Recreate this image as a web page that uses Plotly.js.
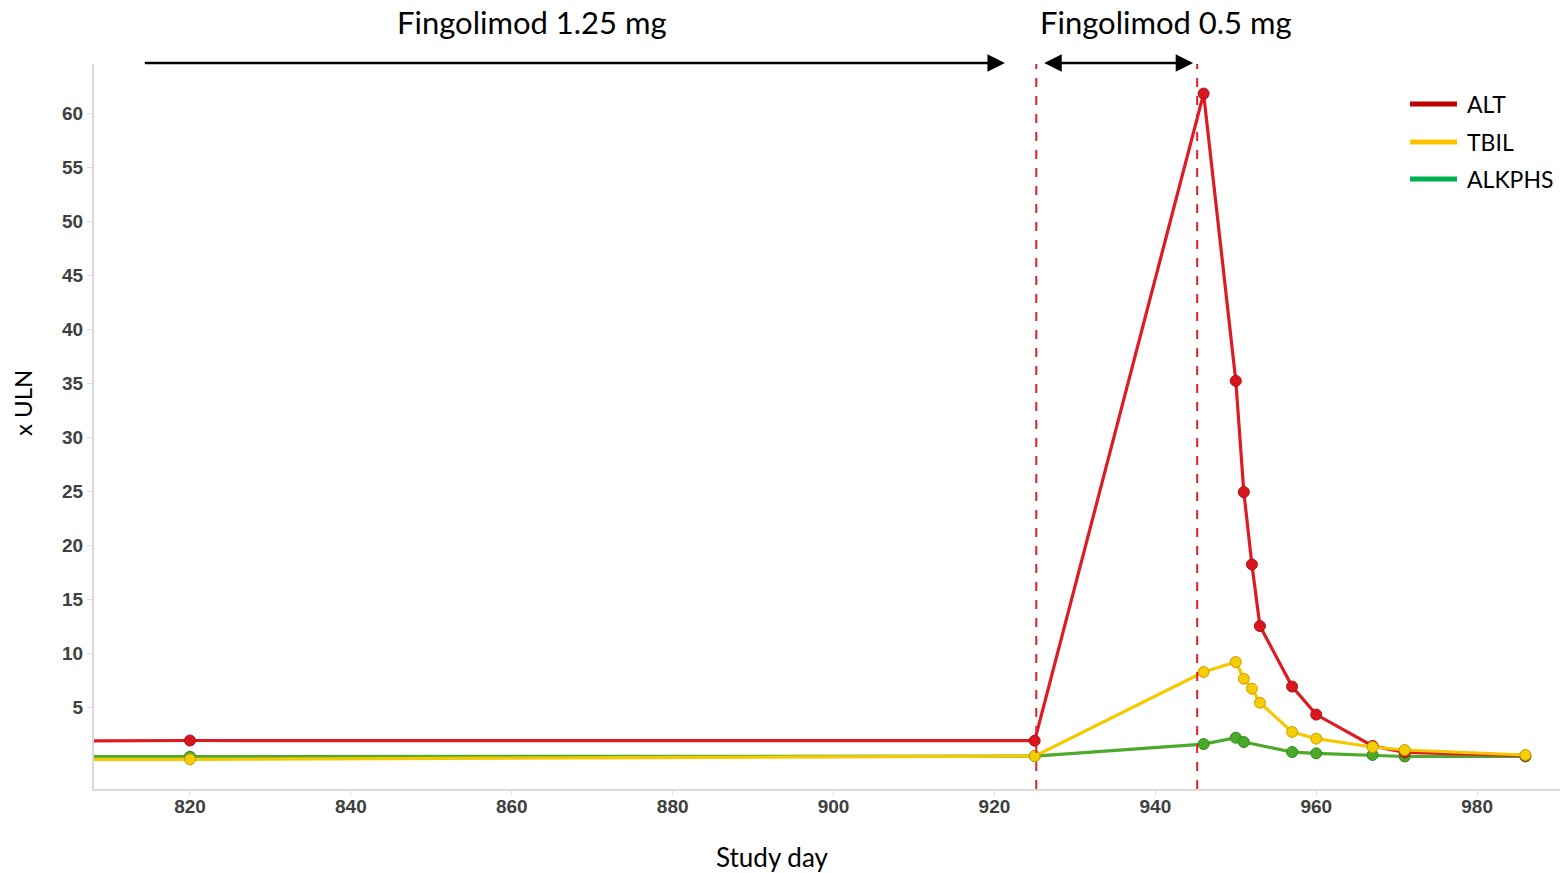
<!DOCTYPE html>
<html>
<head>
<meta charset="utf-8">
<script src="https://cdn.plot.ly/plotly-3.0.1.min.js"></script>
<style>html,body{margin:0;padding:0;background:#fff;}#chart{width:1568px;height:873px;}</style>
</head>
<body>
<div id="chart"></div>
<script>
// ---- data ----
const seriesNames = ["ALT", "TBIL", "ALKPHS"];
const altDays = [800, 820, 925, 946, 950, 951, 952, 953, 957, 960, 967, 971, 986];
const altValues = [1.85, 1.9, 1.88, 61.8, 35.2, 24.9, 18.2, 12.5, 6.9, 4.3, 1.4, 0.8, 0.5];
const tbilDays = [800, 820, 925, 946, 950, 951, 952, 953, 957, 960, 967, 971, 986];
const tbilValues = [0.15, 0.16, 0.46, 8.24, 9.17, 7.62, 6.7, 5.4, 2.69, 2.07, 1.3, 1.02, 0.56];
const alkDays = [800, 820, 925, 946, 950, 951, 957, 960, 967, 971, 986];
const alkValues = [0.4, 0.4, 0.46, 1.57, 2.16, 1.76, 0.83, 0.71, 0.56, 0.42, 0.42];
const doseChangeDays = [925.2, 945.2];
const periodLabels = ["Fingolimod 1.25 mg", "Fingolimod 0.5 mg"];
const periodSpans = [[814.2, 921.3], [926.0, 944.7]];
const xTicks = [820, 840, 860, 880, 900, 920, 940, 960, 980];
const yTicks = [5, 10, 15, 20, 25, 30, 35, 40, 45, 50, 55, 60];
const xTitle = "Study day";
const yTitle = "x ULN";
const legendColors = ["#C00000", "#FFC000", "#00B050"];

const styles = {
  ALT: {line: "#DE1B22", fill: "#D9161E", edge: "#A8131A"},
  TBIL: {line: "#F5C800", fill: "#F6CC07", edge: "#C9A100"},
  ALKPHS: {line: "#4CAB2C", fill: "#4AA92A", edge: "#2F8A1C"}
};

function mk(name, x, y) {
  const s = styles[name];
  return {
    x: x, y: y, name: name, type: "scatter", mode: "lines+markers",
    showlegend: false, cliponaxis: true,
    line: {color: s.line, width: 3.2},
    marker: {size: 11, color: s.fill, line: {color: s.edge, width: 1}}
  };
}

const traces = [
  mk("ALKPHS", alkDays, alkValues),
  mk("ALT", altDays, altValues),
  mk("TBIL", tbilDays, tbilValues)
];

const plotL = 94, plotR = 1560, plotT = 64, plotB = 789;
const px2x = p => (p - plotL) / (plotR - plotL);
const px2y = p => (plotB - p) / (plotB - plotT);
const textFont = "Lato, 'Open Sans', sans-serif";

const shapes = doseChangeDays.map(d => ({
  type: "line", xref: "x", yref: "paper", x0: d, x1: d, y0: 0, y1: 1,
  line: {color: "#E0202A", width: 2, dash: "dash"}
}));

const annotations = [];
// legend (manual)
const legendY = [104, 142, 179];
seriesNames.forEach((n, i) => {
  shapes.push({type: "line", xref: "paper", yref: "paper",
    x0: px2x(1410), x1: px2x(1457), y0: px2y(legendY[i]), y1: px2y(legendY[i]),
    line: {color: legendColors[i], width: 5}});
  annotations.push({xref: "paper", yref: "paper", x: px2x(1465), y: px2y(legendY[i]),
    xanchor: "left", yanchor: "middle", showarrow: false, text: n,
    font: {family: textFont, size: 23, color: "#000"}});
});

// period arrows
const arrowYp = px2y(63);
annotations.push({x: periodSpans[0][1], y: arrowYp, xref: "x", yref: "paper",
  ax: periodSpans[0][0], ay: 0, axref: "x", ayref: "pixel", text: "",
  showarrow: true, arrowhead: 2, arrowsize: 1.4, arrowwidth: 2.5, arrowcolor: "#000"});
annotations.push({x: periodSpans[1][1], y: arrowYp, xref: "x", yref: "paper",
  ax: periodSpans[1][0], ay: 0, axref: "x", ayref: "pixel", text: "",
  showarrow: true, arrowside: "end+start", arrowhead: 2, startarrowhead: 2,
  arrowsize: 1.4, startarrowsize: 1.4, arrowwidth: 2.5, arrowcolor: "#000"});
// period labels
const labelCenters = [862.5, 941.3];
periodLabels.forEach((t, i) => {
  annotations.push({x: labelCenters[i], y: px2y(22), xref: "x", yref: "paper",
    xanchor: "center", yanchor: "middle", showarrow: false, text: t,
    font: {family: textFont, size: 31, color: "#000"}});
});
// axis titles
annotations.push({xref: "paper", yref: "paper", x: px2x(772), y: px2y(857),
  xanchor: "center", yanchor: "middle", showarrow: false, text: xTitle,
  font: {family: textFont, size: 26, color: "#000"}});
annotations.push({xref: "paper", yref: "paper", x: px2x(22), y: px2y(403),
  xanchor: "center", yanchor: "middle", showarrow: false, text: yTitle, textangle: -90,
  font: {family: textFont, size: 24, color: "#000"}});

const tickFont = {family: "'Liberation Sans', Arial, sans-serif", size: 19, color: "#404040", weight: "bold"};

const layout = {
  width: 1568, height: 873,
  margin: {l: plotL, r: 1568 - plotR, t: plotT, b: 873 - plotB},
  paper_bgcolor: "#fff", plot_bgcolor: "#fff",
  showlegend: false,
  xaxis: {
    range: [808.07, 990.3], tickvals: xTicks, ticktext: xTicks.map(String),
    showgrid: false, zeroline: false, showline: true, linecolor: "#D9D9D9", linewidth: 2,
    ticks: "outside", ticklen: 4, tickcolor: "#D9D9D9", tickwidth: 1,
    ticklabelstandoff: -5,
    tickfont: tickFont
  },
  yaxis: {
    range: [-2.59, 64.54], tickvals: yTicks, ticktext: yTicks.map(String),
    showgrid: false, zeroline: false, showline: true, linecolor: "#D9D9D9", linewidth: 2,
    ticks: "outside", ticklen: 5, tickcolor: "#D9D9D9", tickwidth: 1,
    tickfont: tickFont
  },
  shapes: shapes,
  annotations: annotations
};

Plotly.newPlot("chart", traces, layout, {displayModeBar: false, staticPlot: true});
</script>
</body>
</html>
